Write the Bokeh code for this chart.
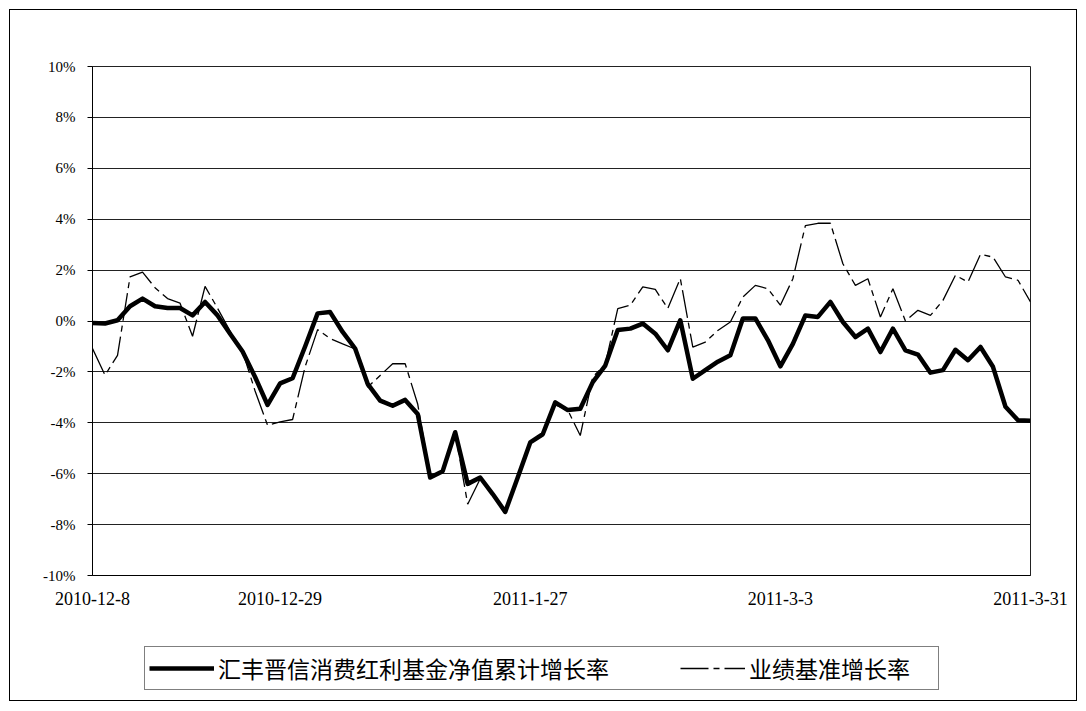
from bokeh.plotting import figure
from bokeh.models import Range1d, Legend, LegendItem, FixedTicker
from bokeh.layouts import column
from bokeh.embed import file_html
from bokeh.resources import INLINE

# trading-day index 0..75 (2010-12-8 .. 2011-3-31)
tick_positions = [0, 15, 35, 55, 75]
tick_labels = ["2010-12-8", "2010-12-29", "2011-1-27", "2011-3-3", "2011-3-31"]
y_ticks = [-10, -8, -6, -4, -2, 0, 2, 4, 6, 8, 10]

fund_nav = [-0.08, -0.10, 0.03, 0.58, 0.88, 0.58, 0.51, 0.51, 0.22, 0.75,
            0.22, -0.50, -1.20, -2.20, -3.30, -2.45, -2.25, -1.00, 0.30, 0.35,
            -0.43, -1.08, -2.47, -3.13, -3.33, -3.10, -3.65, -6.15, -5.90, -4.37,
            -6.40, -6.15, -6.80, -7.50, -6.15, -4.77, -4.45, -3.20, -3.50, -3.45,
            -2.40, -1.75, -0.35, -0.30, -0.10, -0.50, -1.15, 0.03, -2.27, -1.93,
            -1.60, -1.35, 0.10, 0.10, -0.75, -1.78, -0.90, 0.22, 0.16, 0.75,
            -0.04, -0.63, -0.30, -1.22, -0.30, -1.15, -1.32, -2.03, -1.93, -1.13,
            -1.54, -1.02, -1.80, -3.37, -3.90, -3.92]

benchmark = [-1.08, -2.13, -1.35, 1.73, 1.92, 1.31, 0.88, 0.70, -0.60, 1.36,
             0.50, -0.40, -1.20, -2.75, -4.10, -3.96, -3.87, -1.80, -0.34, -0.69,
             -0.90, -1.10, -2.60, -2.14, -1.68, -1.68, -3.26, -6.10, -5.90, -4.40,
             -7.20, -6.20, -6.80, -7.50, -6.20, -4.80, -4.50, -3.30, -3.50, -4.50,
             -2.20, -1.70, 0.49, 0.62, 1.34, 1.24, 0.49, 1.67, -1.03, -0.83,
             -0.37, -0.04, 0.94, 1.40, 1.27, 0.62, 1.66, 3.75, 3.84, 3.84,
             2.25, 1.40, 1.66, 0.16, 1.27, 0.00, 0.42, 0.22, 0.81, 1.80,
             1.53, 2.62, 2.51, 1.73, 1.60, 0.75]

series_names = ["汇丰晋信消费红利基金净值累计增长率", "业绩基准增长率"]

x = list(range(len(fund_nav)))

FUND_STYLE = dict(line_color="black", line_width=4.5, line_join="round")
BENCH_STYLE = dict(line_color="black", line_width=1.3, line_dash="28 5 6 5")

W = 1066
p = figure(width=W, height=630, output_backend="svg", toolbar_location=None,
           x_range=Range1d(0, 75), y_range=Range1d(-10, 10),
           min_border_left=82, min_border_right=46, min_border_top=56,
           min_border_bottom=65)
p.background_fill_color = "white"
p.border_fill_color = "white"
p.outline_line_color = "#222222"
p.outline_line_width = 1

p.xgrid.visible = False
p.ygrid.ticker = FixedTicker(ticks=y_ticks)
p.ygrid.grid_line_color = "#222222"
p.ygrid.grid_line_width = 1

p.yaxis.ticker = FixedTicker(ticks=y_ticks)
p.yaxis.major_label_overrides = {v: f"{v}%" for v in y_ticks}
p.yaxis.major_tick_out = 5
p.yaxis.major_tick_in = 0
p.yaxis.minor_tick_out = 0
p.yaxis.minor_tick_in = 0
p.yaxis.major_label_standoff = 12
p.yaxis.axis_line_color = "black"
p.yaxis.major_label_text_font_size = "15px"

p.xaxis.ticker = FixedTicker(ticks=tick_positions)
p.xaxis.major_label_overrides = {pos: lab for pos, lab in zip(tick_positions, tick_labels)}
p.xaxis.major_tick_out = 0
p.xaxis.major_tick_in = 0
p.xaxis.minor_tick_out = 0
p.xaxis.minor_tick_in = 0
p.xaxis.major_label_standoff = 16
p.xaxis.axis_line_color = "black"
p.xaxis.major_label_text_font_size = "18px"

for ax in (p.xaxis, p.yaxis):
    ax.major_label_text_font = "Liberation Serif"
    ax.major_label_text_color = "black"

p.line(x, benchmark, **BENCH_STYLE)
p.line(x, fund_nav, **FUND_STYLE)

# legend strip below the chart (its series sit outside this strip's view;
# they only supply the legend's line samples)
pl = figure(width=W, height=60, output_backend="svg", toolbar_location=None,
            x_axis_location=None, y_axis_location=None,
            x_range=Range1d(0, 75), y_range=Range1d(100, 101),
            min_border_left=82, min_border_right=46, min_border_top=0,
            min_border_bottom=0)
pl.grid.visible = False
pl.outline_line_color = None
pl.background_fill_color = "white"
pl.border_fill_color = "white"
lf = pl.line(x, fund_nav, **FUND_STYLE)
lb = pl.line(x, benchmark, **BENCH_STYLE)

legend = Legend(items=[LegendItem(label=series_names[0], renderers=[lf]),
                       LegendItem(label=series_names[1], renderers=[lb])],
                location=(52, 10), orientation="horizontal")
legend.label_text_font = "Noto Sans CJK SC"
legend.label_text_font_size = "23px"
legend.label_text_color = "black"
legend.glyph_width = 65
legend.label_standoff = 4
legend.spacing = 71
legend.padding = 4
legend.label_width = 185
legend.margin = 0
legend.border_line_color = "black"
legend.border_line_width = 1.5
legend.background_fill_alpha = 1
pl.add_layout(legend, "center")

layout = column(p, pl, spacing=0)
layout.styles = {"border": "1px solid #000000", "margin-left": "9px", "margin-top": "9px"}

open("out.html", "w").write(file_html(layout, INLINE))
